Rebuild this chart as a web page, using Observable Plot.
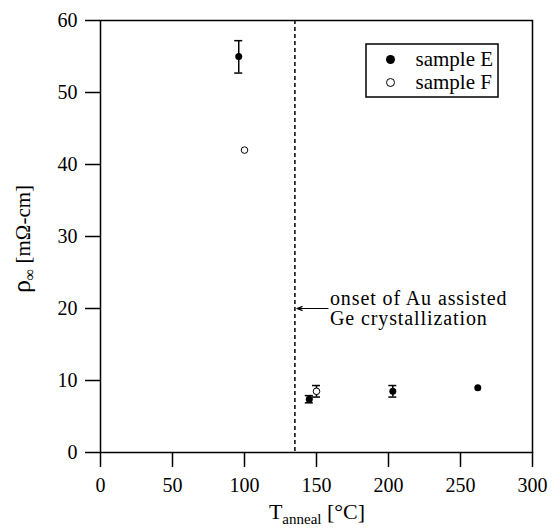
<!DOCTYPE html>
<html><head><meta charset="utf-8">
<script src="https://cdn.jsdelivr.net/npm/d3@7"></script>
<script src="https://cdn.jsdelivr.net/npm/@observablehq/plot@0.6"></script>
<style>body{margin:0;background:#fff} svg text, svg tspan{font-family:"Liberation Serif","Times New Roman",serif !important}</style>
</head><body><div id="chart"></div>
<script>
// ---- data ----
const tempE = [96, 145, 203, 262];
const rhoE  = [55, 7.4, 8.5, 9.0];
const loE   = [52.7, 6.9, 7.7, null];
const hiE   = [57.2, 7.9, 9.3, null];
const tempF = [100, 150];
const rhoF  = [42, 8.5];
const loF   = [null, 7.7];
const hiF   = [null, 9.3];
const onsetT = 135;
const arrowFromT = 158;
const arrowRho = 20;
const xTicks = [0, 50, 100, 150, 200, 250, 300];
const yTicks = [0, 10, 20, 30, 40, 50, 60];
const legendLabels = ["sample E", "sample F"];
const annotation = "onset of Au assisted\nGe crystallization";

// ---- tables ----
const E = tempE.map((t, i) => ({t, rho: rhoE[i], lo: loE[i], hi: hiE[i]}));
const F = tempF.map((t, i) => ({t, rho: rhoF[i], lo: loF[i], hi: hiF[i]}));
const errs = [...E, ...F].filter(d => d.lo != null);

const svgns = "http://www.w3.org/2000/svg";
const legendBox = (index, scales, values, dim) => {
  const r = document.createElementNS(svgns, "rect");
  const right = dim.width - dim.marginRight;
  r.setAttribute("x", right - 166);
  r.setAttribute("y", dim.marginTop + 24);
  r.setAttribute("width", 132);
  r.setAttribute("height", 53);
  r.setAttribute("fill", "white");
  r.setAttribute("stroke", "black");
  r.setAttribute("stroke-width", 1.5);
  return r;
};

const plot = Plot.plot({
  width: 557, height: 529,
  marginLeft: 100, marginRight: 25, marginTop: 20, marginBottom: 77,
  style: {fontFamily: '"Liberation Serif", "Times New Roman", serif', fontSize: "20px", background: "white", color: "black"},
  x: {domain: [0, 300]},
  y: {domain: [0, 60]},
  marks: [
    Plot.axisX({ticks: xTicks, tickSize: 15, tickPadding: 10, label: null, strokeWidth: 1.5, fontSize: 20}),
    Plot.axisY({ticks: yTicks, tickSize: 15, tickPadding: 8, label: null, strokeWidth: 1.5, fontSize: 20}),
    Plot.ruleX([onsetT], {strokeDasharray: "4,3", strokeWidth: 1.5}),
    Plot.arrow([{x1: arrowFromT, x2: onsetT, y: arrowRho}], {x1: "x1", x2: "x2", y1: "y", y2: "y", headLength: 7, headAngle: 40, strokeWidth: 1.2, insetEnd: 2}),
    Plot.text([annotation], {x: arrowFromT + 1.3, y: arrowRho, text: d => d, textAnchor: "start", lineAnchor: "middle", lineHeight: 1.0, fontSize: 20}),
    Plot.ruleX(errs, {x: "t", y1: "lo", y2: "hi", strokeWidth: 1.5}),
    Plot.ruleY(errs, {y: "lo", x1: "t", x2: "t", insetLeft: -4, insetRight: -4, strokeWidth: 1.5}),
    Plot.ruleY(errs, {y: "hi", x1: "t", x2: "t", insetLeft: -4, insetRight: -4, strokeWidth: 1.5}),
    Plot.dot(E, {x: "t", y: "rho", r: 3.5, fill: "black"}),
    Plot.dot(F, {x: "t", y: "rho", r: 3.3, fill: "white", stroke: "black", strokeWidth: 1}),
    legendBox,
    Plot.dot([legendLabels[0]], {frameAnchor: "top-left", dx: 290, dy: 39, r: 4.5, fill: "black"}),
    Plot.dot([legendLabels[1]], {frameAnchor: "top-left", dx: 290, dy: 62, r: 4, fill: "white", stroke: "black", strokeWidth: 1}),
    Plot.text([legendLabels[0]], {frameAnchor: "top-left", dx: 315, dy: 39, text: d => d, textAnchor: "start", lineAnchor: "middle", fontSize: 21}),
    Plot.text([legendLabels[1]], {frameAnchor: "top-left", dx: 315, dy: 62, text: d => d, textAnchor: "start", lineAnchor: "middle", fontSize: 21}),
    Plot.frame({strokeWidth: 1.5})
  ]
});

const svg = d3.select(plot);
// widen the annotation a little, like the reference's wide face
svg.selectAll("text").filter(function() { return this.textContent.includes("onset"); })
  .style("letter-spacing", "0.9px");
// x axis label with subscript
const xl = svg.append("text").attr("x", 317).attr("y", 519).attr("text-anchor", "middle").attr("fill", "black");
xl.append("tspan").attr("font-size", 22).text("T");
xl.append("tspan").attr("font-size", 15).attr("dy", 5).text("anneal");
xl.append("tspan").attr("font-size", 22).attr("dy", -5).text(" [°C]");
// y axis label with subscript
const yl = svg.append("text").attr("transform", "translate(30,239) rotate(-90)").attr("text-anchor", "middle").attr("fill", "black");
yl.append("tspan").attr("font-size", 26).text("ρ");
yl.append("tspan").attr("font-size", 16).attr("dy", 5).text("∞");
yl.append("tspan").attr("font-size", 21).attr("dy", -5).text(" [mΩ-cm]");

document.getElementById("chart").appendChild(plot);
</script>
</body></html>
